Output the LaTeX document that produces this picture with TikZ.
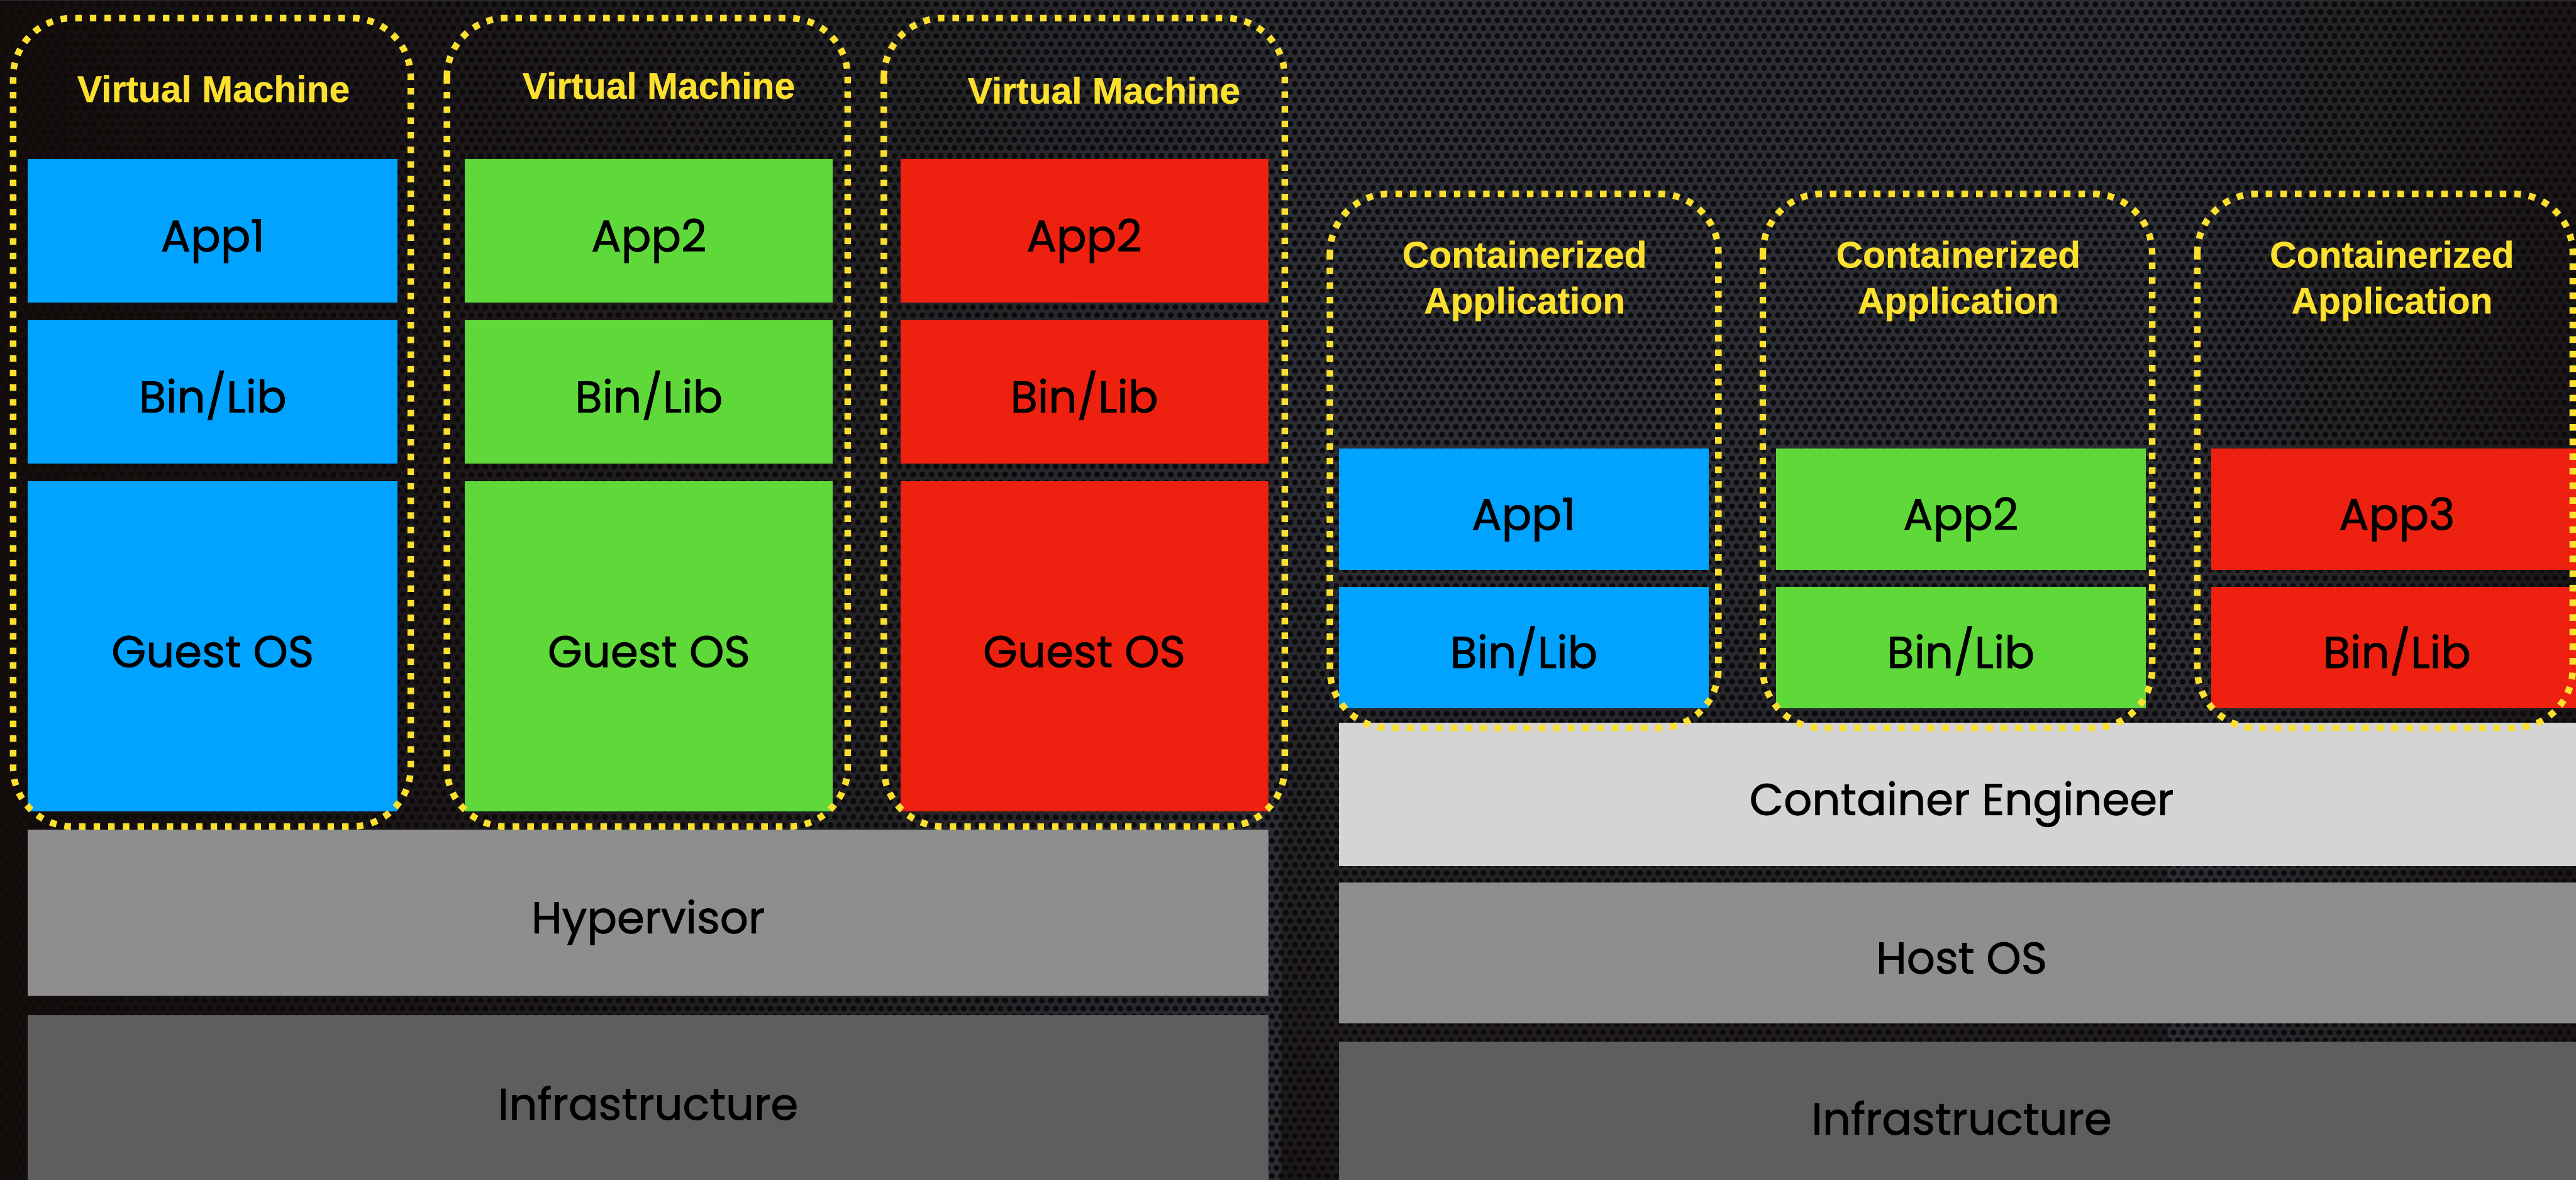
\documentclass[tikz,border=0pt]{standalone}
\usepackage{fontspec}
\setmainfont{Poppins}
\newfontfamily\labelfont{Poppins}[FakeBold=1.2]
\newfontfamily\headfont{Liberation Sans}[FakeBold=0.6]
\usetikzlibrary{patterns,fadings}

\definecolor{metal}{HTML}{2C2E33}
\definecolor{metaldark}{HTML}{110A09}
\definecolor{hole}{HTML}{0C0B0D}
\definecolor{frameyellow}{HTML}{FBE02E}
\definecolor{appblue}{HTML}{00A3FF}
\definecolor{appgreen}{HTML}{5FD93A}
\definecolor{appred}{HTML}{EE200F}
\definecolor{enginegray}{HTML}{D4D4D4}
\definecolor{midgray}{HTML}{8E8E8E}
\definecolor{darkgray}{HTML}{5E5E5E}

% perforated metal sheet: hex-packed holes
\pgfdeclarepatternformonly{perforated}{\pgfpoint{-0.5pt}{-0.5pt}}{\pgfpoint{6.1pt}{10.2pt}}{\pgfpoint{5.6pt}{9.7pt}}{%
  \pgfpathcircle{\pgfpoint{1.4pt}{2.425pt}}{1.8pt}%
  \pgfpathcircle{\pgfpoint{4.2pt}{7.275pt}}{1.8pt}%
  \pgfusepath{fill}%
}

\tikzfading[name=shadeleft, left color=transparent!10, right color=transparent!100]
\tikzfading[name=shaderight, left color=transparent!100, right color=transparent!35]
\tikzfading[name=shadetop, top color=transparent!100, bottom color=transparent!40]

\tikzset{
  layer/.style={inner sep=0pt, outer sep=0pt, text=black,
    text height=29pt, text depth=4pt,
    font=\labelfont\fontsize{27}{32}\selectfont},
  frame/.style={draw=frameyellow, line width=4pt, dash pattern=on 4pt off 4.9pt,
    rounded corners=36pt},
  vmtitle/.style={text=frameyellow, inner sep=0pt,
    font=\headfont\bfseries\fontsize{22.5}{26}\selectfont},
  cttitle/.style={text=frameyellow, inner sep=0pt, align=center,
    font=\headfont\bfseries\fontsize{22.5}{28}\selectfont},
}

\begin{document}
\begin{tikzpicture}[x=1pt, y=-1pt]
  \useasboundingbox (0,0) rectangle (1568,718);

  % background
  \fill[metal] (0,0) rectangle (1568,718);
  \fill[pattern=perforated, pattern color=hole] (0,0) rectangle (1568,718);
  \fill[metaldark, path fading=shadeleft] (0,0) rectangle (800,718);
  \fill[metaldark, path fading=shaderight] (1320,0) rectangle (1568,718);
  \fill[metaldark, path fading=shadetop] (780,300) rectangle (1320,718);

  % ---- virtual machines ----
  \node[layer, fill=appblue,  minimum width=225pt, minimum height=87pt]  (app1)  at (129.5,140.5) {App1};
  \node[layer, fill=appblue,  minimum width=225pt, minimum height=87pt]  (bin1)  at (129.5,238.5) {Bin/Lib};
  \node[layer, fill=appblue,  minimum width=225pt, minimum height=201pt] (os1)   at (129.5,393.5) {Guest OS};

  \node[layer, fill=appgreen, minimum width=224pt, minimum height=87pt]  (app2)  at (395,140.5) {App2};
  \node[layer, fill=appgreen, minimum width=224pt, minimum height=87pt]  (bin2)  at (395,238.5) {Bin/Lib};
  \node[layer, fill=appgreen, minimum width=224pt, minimum height=201pt] (os2)   at (395,393.5) {Guest OS};

  \node[layer, fill=appred,   minimum width=224pt, minimum height=87pt]  (app3)  at (660,140.5) {App2};
  \node[layer, fill=appred,   minimum width=224pt, minimum height=87pt]  (bin3)  at (660,238.5) {Bin/Lib};
  \node[layer, fill=appred,   minimum width=224pt, minimum height=201pt] (os3)   at (660,393.5) {Guest OS};

  \node[layer, fill=midgray,  minimum width=755pt, minimum height=101pt] (hyper) at (394.5,555.5) {Hypervisor};
  \node[layer, fill=darkgray, minimum width=755pt, minimum height=102pt] (infraL) at (394.5,669) {Infrastructure};

  \draw[frame] (8,11) rectangle (250,503);
  \draw[frame] (272,11) rectangle (516,503);
  \draw[frame] (538,11) rectangle (782,503);
  \node[vmtitle] (vm1) at (130,54) {Virtual Machine};
  \node[vmtitle] (vm2) at (401,52) {Virtual Machine};
  \node[vmtitle] (vm3) at (672,55) {Virtual Machine};

  % ---- containers ----
  \node[layer, fill=appblue,  minimum width=225pt, minimum height=74pt] (capp1) at (927.5,310) {App1};
  \node[layer, fill=appblue,  minimum width=225pt, minimum height=74pt] (cbin1) at (927.5,394) {Bin/Lib};
  \node[layer, fill=appgreen, minimum width=225pt, minimum height=74pt] (capp2) at (1193.5,310) {App2};
  \node[layer, fill=appgreen, minimum width=225pt, minimum height=74pt] (cbin2) at (1193.5,394) {Bin/Lib};
  \node[layer, fill=appred,   minimum width=226pt, minimum height=74pt] (capp3) at (1459,310) {App3};
  \node[layer, fill=appred,   minimum width=226pt, minimum height=74pt] (cbin3) at (1459,394) {Bin/Lib};

  \node[layer, fill=enginegray, minimum width=758pt, minimum height=87pt] (engine) at (1194,483.5) {Container Engineer};
  \node[layer, fill=midgray,    minimum width=758pt, minimum height=86pt] (hostos) at (1194,580) {Host OS};
  \node[layer, fill=darkgray,   minimum width=758pt, minimum height=88pt] (infraR) at (1194,678) {Infrastructure};

  \draw[frame] (809.5,118) rectangle (1046,443);
  \draw[frame] (1073,118) rectangle (1310,443);
  \draw[frame] (1337.5,118) rectangle (1566,443);
  \node[cttitle] (ct1) at (928,171) {Containerized\\Application};
  \node[cttitle] (ct2) at (1192,171) {Containerized\\Application};
  \node[cttitle] (ct3) at (1456,171) {Containerized\\Application};
\end{tikzpicture}
\end{document}
